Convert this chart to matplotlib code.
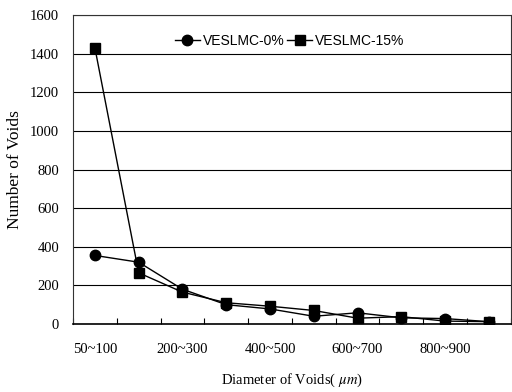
import numpy as np
import matplotlib
matplotlib.use('Agg')
import matplotlib.pyplot as plt

# void counts per diameter class
categories = ['50~100', '100~200', '200~300', '300~400', '400~500',
              '500~600', '600~700', '700~800', '800~900', '900~1000']
veslmc_0 = [355, 320, 180, 100, 78, 40, 58, 32, 28, 12]
veslmc_15 = [1430, 265, 165, 110, 92, 70, 30, 38, 15, 12]
yticks = [0, 200, 400, 600, 800, 1000, 1200, 1400, 1600]

serif = ['Liberation Serif', 'DejaVu Serif']
sans = ['Liberation Sans Narrow', 'Liberation Sans', 'DejaVu Sans']
plt.rcParams['mathtext.fontset'] = 'stix'

fig = plt.figure(figsize=(5.12, 3.92), dpi=100)
ax = fig.add_axes([0.1426, 0.1735, 0.855, 0.788])

x = np.arange(len(categories))
ax.plot(x, veslmc_0, '-o', color='black', lw=1.0, ms=7.5, label='VESLMC-0%')
ax.plot(x, veslmc_15, '-s', color='black', lw=1.0, ms=7, label='VESLMC-15%')

ax.set_xlim(-0.5, len(categories) - 0.5)
ax.set_ylim(0, 1600)
ax.set_yticks(yticks)
ax.set_yticklabels([str(v) for v in yticks], family=serif, fontsize=10.5)

# category boundaries get the ticks, every other category gets a label
ax.set_xticks(np.arange(len(categories) + 1) - 0.5)
ax.set_xticklabels([])
ax.set_xticks(x[::2], minor=True)
ax.set_xticklabels(categories[::2], minor=True, family=serif, fontsize=10.5)
ax.tick_params(axis='x', which='major', direction='in', length=4, width=0.8)
ax.tick_params(axis='x', which='minor', length=0, pad=14)
ax.tick_params(axis='y', length=0, pad=10)

ax.grid(axis='y', color='black', lw=0.8)
ax.set_axisbelow(True)
for s in ax.spines.values():
    s.set_linewidth(0.8)
    s.set_color('#333333')
ax.spines['bottom'].set_color('black')
ax.spines['bottom'].set_linewidth(1.2)

ax.set_ylabel('Number of Voids', family=serif, fontsize=12.5, labelpad=5)
ax.set_xlabel(r'Diameter of Voids( $\mathit{\mu m}$)', family=serif, fontsize=10.5, labelpad=11)

leg = ax.legend(loc='upper center', bbox_to_anchor=(0.495, 0.98), ncol=2, frameon=False,
                handlelength=1.8, handletextpad=0.2, columnspacing=0.2,
                prop={'family': sans, 'size': 10})

fig.savefig('out.png', dpi=100)
